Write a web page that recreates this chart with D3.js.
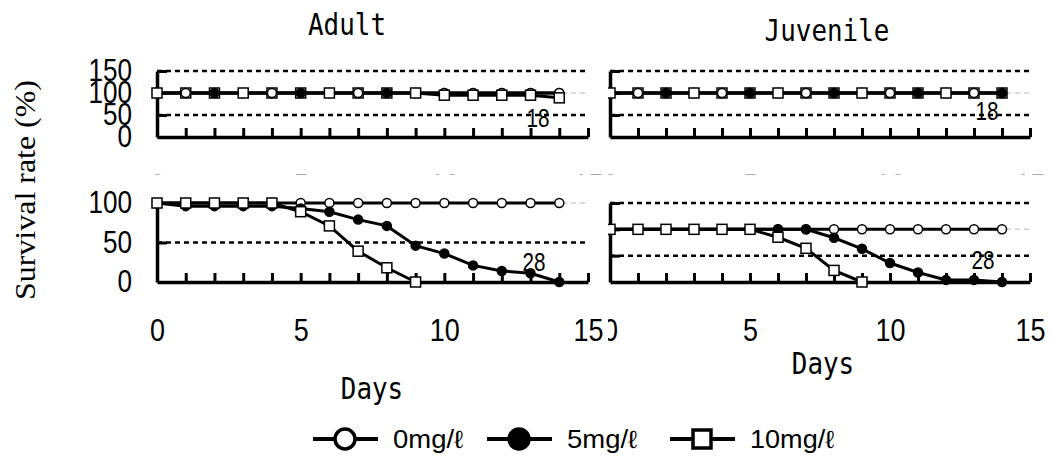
<!DOCTYPE html>
<html>
<head>
<meta charset="utf-8">
<script src="https://cdn.jsdelivr.net/npm/d3@7"></script>
<style>
  body { margin: 0; background: #fff; }
  svg { display: block; }
</style>
</head>
<body>
<div id="chart"></div>
<script>
// days of observation
const days = [0, 1, 2, 3, 4, 5, 6, 7, 8, 9, 10, 11, 12, 13, 14];
const concentrations = ["0mg/\u2113", "5mg/\u2113", "10mg/\u2113"];

// upper row (n = 18), survival %
const adult18_0 = [100, 100, 100, 100, 100, 100, 100, 100, 100, 100, 100, 100, 100, 100, 100];
const adult18_5 = [100, 100, 100, 100, 100, 100, 100, 100, 100, 100, 100, 100, 100, 100, 100];
const adult18_10 = [100, 100, 100, 100, 100, 100, 100, 100, 100, 100, 95, 95, 95, 95, 89];
const juv18_0 = [100, 100, 100, 100, 100, 100, 100, 100, 100, 100, 100, 100, 100, 100, 100];
const juv18_5 = [100, 100, 100, 100, 100, 100, 100, 100, 100, 100, 100, 100, 100, 100, 100];
const juv18_10 = [100, 100, 100, 100, 100, 100, 100, 100, 100, 100, 100, 100, 100, 100, 100];

// lower row (n = 28), survival %
const adult28_0 = [100, 100, 100, 100, 100, 100, 100, 100, 100, 100, 100, 100, 100, 100, 100];
const adult28_5 = [100, 96, 96, 96, 96, 93, 89, 79, 71, 46, 36, 21, 14, 11, 0];
const adult28_10 = [100, 100, 100, 100, 100, 89, 71, 39, 18, 0];
const juv28_0 = [100, 100, 100, 100, 100, 100, 100, 100, 100, 100, 100, 100, 100, 100, 100];
const juv28_5 = [100, 100, 100, 100, 100, 100, 100, 100, 84, 63, 36, 18, 4, 4, 0];
const juv28_10 = [100, 100, 100, 100, 100, 100, 85, 64, 22, 0];

const xTickLabels = [0, 5, 10, 15];
const sampleLabels = ["18", "18", "28", "28"];
const titles = ["Adult", "Juvenile"];

const W = 1053, H = 461;
const svg = d3.select("#chart").append("svg").attr("width", W).attr("height", H);

const narrow = "Liberation Sans Narrow, Liberation Sans, Arial, sans-serif";
const mono = "DejaVu Sans Mono, monospace";
const serif = "Liberation Serif, Times New Roman, DejaVu Serif, serif";

const panels = [
  { series: [adult18_0, adult18_5, adult18_10], x: [157, 588], y: [137, 71], max: 150,
    yLabels: true, cycle: true, n: sampleLabels[0], np: [538, 118] },
  { series: [juv18_0, juv18_5, juv18_10], x: [610, 1030], y: [137, 71], max: 150,
    yLabels: false, cycle: true, n: sampleLabels[1], np: [987, 111] },
  { series: [adult28_0, adult28_5, adult28_10], x: [157, 588], y: [282, 203], max: 100,
    yLabels: true, cycle: false, n: sampleLabels[2], np: [534, 262] },
  { series: [juv28_0, juv28_5, juv28_10], x: [610, 1030], y: [282, 203], max: 150,
    yLabels: false, cycle: false, n: sampleLabels[3], np: [983, 260] }
];

// clips for the half hidden labels and marks
const defs = svg.append("defs");
defs.append("clipPath").attr("id", "clipTop")
  .append("rect").attr("x", 0).attr("y", 0).attr("width", W).attr("height", 175);
defs.append("clipPath").attr("id", "clipRight")
  .append("rect").attr("x", 608).attr("y", 0).attr("width", W).attr("height", H);

const drawMarker = function (sel, s, size) {
  if (s == 2) {
    sel.append("rect")
      .attr("x", -size).attr("y", -size)
      .attr("width", size * 2).attr("height", size * 2)
      .attr("fill", "#fff").attr("stroke", "#000");
  } else {
    sel.append("circle")
      .attr("r", size)
      .attr("fill", s == 1 ? "#000" : "#fff")
      .attr("stroke", "#000");
  }
};

panels.forEach(function (p, pi) {
  const x = d3.scaleLinear().domain([0, 15]).range(p.x);
  const y = d3.scaleLinear().domain([0, p.max]).range(p.y);
  const yTicks = d3.range(0, p.max + 1, 50);
  const outer = svg.append("g");
  if (pi == 1 || pi == 3) outer.attr("clip-path", "url(#clipRight)");
  const g = outer.append("g");

  // gridlines
  g.selectAll(".grid")
    .data(yTicks.filter((v) => v > 0))
    .join("line")
    .attr("x1", p.x[0]).attr("x2", p.x[1])
    .attr("y1", (v) => y(v)).attr("y2", (v) => y(v))
    .attr("stroke", (v) => (v == 100 ? "#cfcfcf" : "#000"))
    .attr("stroke-width", (v) => (v == 100 ? 1.5 : 2.5))
    .attr("stroke-dasharray", "5,4");

  // x axis, ticks pointing up
  const xAxis = g.append("g")
    .attr("transform", "translate(0," + p.y[0] + ")")
    .call(d3.axisBottom(x).tickValues(days.slice(1).concat([15]))
      .tickSizeInner(-9).tickSizeOuter(0).tickFormat(""));
  xAxis.select(".domain").attr("stroke-width", 3.5);
  xAxis.selectAll(".tick line").attr("stroke-width", 3);

  // x tick labels (upper row only shows their top edge)
  const xlWrap = g.append("g");
  if (pi < 2) xlWrap.attr("clip-path", "url(#clipTop)");
  const xl = xlWrap.append("g")
    .attr("transform", "translate(0," + p.y[0] + ")")
    .call(d3.axisBottom(x).tickValues(xTickLabels).tickSize(0).tickPadding(37));
  xl.select(".domain").remove();
  xl.selectAll("text")
    .style("font-family", narrow).attr("font-size", 31)
    .attr("fill", pi < 2 ? "#aaa" : "#000")
    .attr("textLength", (d) => String(d).length * 15)
    .attr("lengthAdjust", "spacingAndGlyphs");

  // y axis, ticks pointing in
  const yAxis = g.append("g")
    .attr("transform", "translate(" + p.x[0] + ",0)")
    .call(d3.axisLeft(y).tickValues(yTicks.filter((v) => v > 0))
      .tickSizeInner(-10).tickSizeOuter(0).tickPadding(25)
      .tickFormat((d) => (p.yLabels ? d : "")));
  yAxis.select(".domain").attr("stroke-width", 3.5);
  yAxis.selectAll(".tick line").attr("stroke-width", 3);
  if (p.yLabels) {
    const zero = g.append("g")
      .attr("transform", "translate(" + p.x[0] + ",0)")
      .call(d3.axisLeft(y).tickValues([0]).tickSize(0).tickPadding(25));
    zero.select(".domain").remove();
    [yAxis, zero].forEach(function (a) {
      a.selectAll("text")
        .style("font-family", narrow).attr("font-size", 31).attr("fill", "#000")
        .attr("textLength", (d) => String(d).length * 14.5)
        .attr("lengthAdjust", "spacingAndGlyphs");
    });
  }

  // lines
  const line = d3.line().x((d, i) => x(days[i])).y((d) => y(d));
  g.selectAll(".series")
    .data(p.series)
    .join("path")
    .attr("d", (s) => line(s))
    .attr("fill", "none")
    .attr("stroke", "#000")
    .attr("stroke-width", 3);

  // markers, stacking order as in the original
  const pts = [];
  p.series.forEach(function (s, si) {
    s.forEach(function (v, i) {
      pts.push({ s: si, d: days[i], v: v });
    });
  });
  const allEqual = (d) => p.series.every((s) => s[d] === p.series[0][d]);
  const baseOrder = p.cycle ? [1, 0, 2] : [0, 1, 2];
  pts.forEach(function (pt) {
    if (p.cycle && allEqual(pt.d)) {
      const top = [2, 0, 1][pt.d % 3];
      pt.z = pt.s == top ? 3 : baseOrder.indexOf(pt.s);
    } else {
      pt.z = baseOrder.indexOf(pt.s);
    }
  });
  pts.sort((a, b) => a.d - b.d || a.z - b.z);
  g.selectAll(".pt")
    .data(pts)
    .join("g")
    .attr("transform", (d) => "translate(" + x(d.d) + "," + y(d.v) + ")")
    .each(function (d) {
      drawMarker(d3.select(this), d.s, d.s == 2 ? 5 : 4.5);
    })
    .selectAll("*")
    .attr("stroke-width", 1.5);

  // sample size
  g.append("text")
    .attr("x", p.np[0]).attr("y", p.np[1])
    .attr("text-anchor", "middle").attr("dominant-baseline", "central")
    .style("font-family", narrow).attr("font-size", 25)
    .attr("textLength", 23).attr("lengthAdjust", "spacingAndGlyphs")
    .text(p.n);
});

// titles and axis titles
const titleData = [
  { t: titles[0], x: 347, y: 35 },
  { t: titles[1], x: 827, y: 41 },
  { t: "Days", x: 372, y: 399 },
  { t: "Days", x: 823, y: 374 }
];
svg.selectAll(".title")
  .data(titleData)
  .join("text")
  .attr("x", (d) => d.x).attr("y", (d) => d.y)
  .attr("text-anchor", "middle")
  .style("font-family", mono).attr("font-size", 30)
  .attr("textLength", (d) => d.t.length * 15.6)
  .attr("lengthAdjust", "spacingAndGlyphs")
  .text((d) => d.t);

svg.append("text")
  .attr("transform", "translate(24,190) rotate(-90)")
  .attr("text-anchor", "middle").attr("dominant-baseline", "central")
  .style("font-family", serif)
  .attr("font-size", 30)
  .attr("textLength", 220).attr("lengthAdjust", "spacingAndGlyphs")
  .text("Survival rate (%)");

// legend
const legendX = [345, 519, 702];
const lg = svg.append("g").attr("transform", "translate(0,439)");
const item = lg.selectAll(".item")
  .data(concentrations)
  .join("g")
  .attr("transform", (d, i) => "translate(" + legendX[i] + ",0)");
item.append("line")
  .attr("x1", -32).attr("x2", 33)
  .attr("stroke", "#000").attr("stroke-width", 4);
item.each(function (d, i) {
  drawMarker(d3.select(this), i, i == 2 ? 9 : 10);
});
item.selectAll("circle, rect").attr("stroke-width", 3.5);
item.append("text")
  .attr("x", 48)
  .attr("dominant-baseline", "central")
  .style("font-family", narrow).attr("font-size", 25)
  .attr("textLength", (d) => d.length * 14)
  .attr("lengthAdjust", "spacingAndGlyphs")
  .text((d) => d);
</script>
</body>
</html>
